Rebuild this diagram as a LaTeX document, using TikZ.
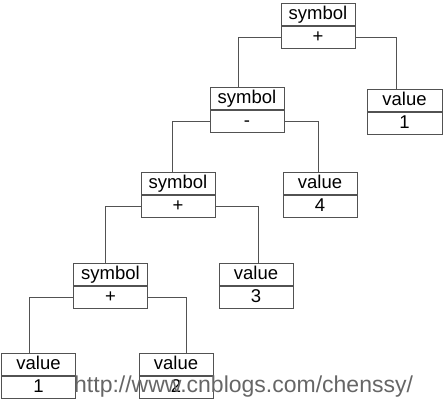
\documentclass[tikz,border=0pt]{standalone}
\usepackage{fontspec}
\setmainfont{Liberation Sans}
\usepackage{tikz}
\usetikzlibrary{positioning}

\begin{document}
\begin{tikzpicture}[x=1pt,y=-1pt]
\tikzset{
  cell/.style={draw=black!68, line width=0.8pt, minimum width=74pt, minimum height=22pt,
    inner sep=0pt, font=\fontsize{18.5}{20}\selectfont, text height=13pt, text depth=3pt},
  link/.style={draw=black!68, line width=0.8pt}
}
\useasboundingbox (0,0) rectangle (443,400);
% level 0
\node [cell, anchor=north] (root) at (318,3) {symbol};
\node [cell, below=0pt of root] (rootop) {+};
% level 1
\node [cell, anchor=north] (sminus) at (247,87) {symbol};
\node [cell, below=0pt of sminus] (sminusop) {-};
\node [cell, anchor=north, minimum width=75pt] (vone) at (404.5,89) {value};
\node [cell, below=0pt of vone, minimum width=75pt] (voneval) {1};
% level 2
\node [cell, anchor=north] (splusa) at (178,172) {symbol};
\node [cell, below=0pt of splusa] (splusaop) {+};
\node [cell, anchor=north] (vfour) at (320,172) {value};
\node [cell, below=0pt of vfour] (vfourval) {4};
% level 3
\node [cell, anchor=north] (splusb) at (110.5,263) {symbol};
\node [cell, below=0pt of splusb] (splusbop) {+};
\node [cell, anchor=north] (vthree) at (256,263) {value};
\node [cell, below=0pt of vthree] (vthreeval) {3};
% level 4
\node [cell, anchor=north] (vonel) at (38.5,353) {value};
\node [cell, below=0pt of vonel] (vonelval) {1};
\node [cell, anchor=north] (vtwo) at (176,353) {value};
\node [cell, below=0pt of vtwo] (vtwoval) {2};
% links
\draw [link] (rootop.west) -| ([xshift=-9pt]sminus.north);
\draw [link] (rootop.east) -| ([xshift=-8.5pt]vone.north);
\draw [link] (sminusop.west) -| ([xshift=-6pt]splusa.north);
\draw [link] (sminusop.east) -| ([xshift=-2pt]vfour.north);
\draw [link] (splusaop.west) -| ([xshift=-5.5pt]splusb.north);
\draw [link] (splusaop.east) -| ([xshift=2pt]vthree.north);
\draw [link] (splusbop.west) -| ([xshift=-9.5pt]vonel.north);
\draw [link] (splusbop.east) -| ([xshift=10pt]vtwo.north);
% watermark
\node [anchor=base west, inner sep=0pt, text=black!60, font=\fontsize{23}{23}\selectfont] (watermark) at (74,392) {http://www.cnblogs.com/chenssy/};
\end{tikzpicture}
\end{document}
